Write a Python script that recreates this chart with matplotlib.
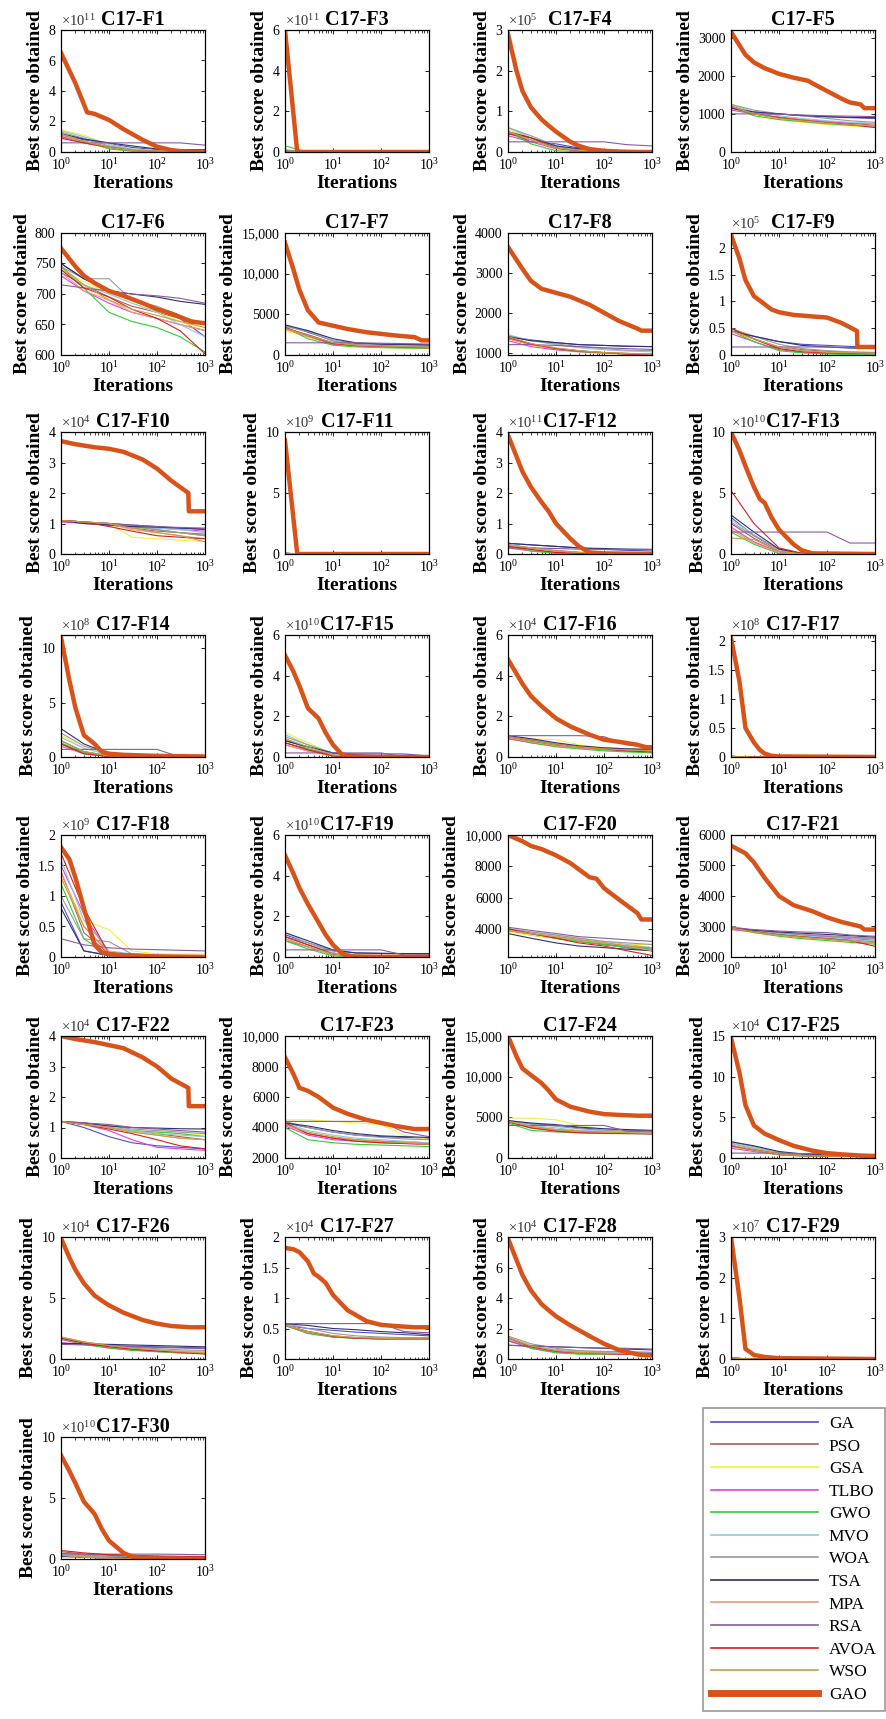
import numpy as np
import matplotlib
matplotlib.use('Agg')
import matplotlib.pyplot as plt
from matplotlib.ticker import FuncFormatter, LogLocator, NullFormatter

plt.rcParams['font.family'] = ['Liberation Serif', 'DejaVu Serif']
plt.rcParams['mathtext.fontset'] = 'custom'
plt.rcParams['mathtext.rm'] = 'Liberation Serif'
plt.rcParams['mathtext.it'] = 'Liberation Serif:italic'
plt.rcParams['mathtext.bf'] = 'Liberation Serif:bold'

ALGOS = ['GA', 'PSO', 'GSA', 'TLBO', 'GWO', 'MVO', 'WOA', 'TSA', 'MPA', 'RSA', 'AVOA', 'WSO', 'GAO']
COLORS = ['#5050c8', '#b05a5a', '#f2f23a', '#e040e0', '#30d030', '#90c8e0', '#9a9a9a',
          '#303070', '#f09878', '#8a5aa0', '#d42020', '#c8a040', '#d95319']

# iterations at which the 12 competitor curves were read
X_PTS = [1, 3, 10, 30, 100, 300, 1000]

# ---- values (in units of 10^exp) ----
F1 = [[1.1, 0.8, 0.55, 0.3, 0.15, 0.1, 0.08], [1.0, 0.7, 0.35, 0.15, 0.08, 0.05, 0.05],
      [1.45, 1.1, 0.5, 0.2, 0.1, 0.05, 0.03], [1.0, 0.6, 0.3, 0.1, 0.05, 0.02, 0.01],
      [1.2, 0.7, 0.2, 0.05, 0.02, 0.01, 0.01], [1.4, 1.0, 0.5, 0.2, 0.1, 0.05, 0.03],
      [1.3, 0.9, 0.4, 0.15, 0.05, 0.02, 0.02], [1.2, 0.85, 0.6, 0.4, 0.2, 0.15, 0.15],
      [1.1, 0.6, 0.3, 0.1, 0.05, 0.02, 0.01], [0.6, 0.6, 0.6, 0.6, 0.6, 0.6, 0.45],
      [0.9, 0.6, 0.3, 0.1, 0.05, 0.02, 0.01], [1.2, 0.7, 0.3, 0.1, 0.05, 0.02, 0.01]]
F1_GAO_X = [1, 2, 3.5, 5, 10, 20, 50, 100, 200, 400, 1000]
F1_GAO_Y = [6.5, 4.5, 2.6, 2.5, 2.1, 1.5, 0.8, 0.35, 0.12, 0.02, 0.0]

F3 = [[0.05, 0, 0, 0, 0, 0, 0], [0.05, 0, 0, 0, 0, 0, 0], [0.08, 0, 0, 0, 0, 0, 0],
      [0.05, 0, 0, 0, 0, 0, 0], [0.3, 0, 0, 0, 0, 0, 0], [0.1, 0, 0, 0, 0, 0, 0],
      [0.1, 0, 0, 0, 0, 0, 0], [0.05, 0, 0, 0, 0, 0, 0], [0.05, 0, 0, 0, 0, 0, 0],
      [0.02, 0, 0, 0, 0, 0, 0], [0.05, 0, 0, 0, 0, 0, 0], [0.05, 0, 0, 0, 0, 0, 0]]
F3_GAO_X = [1, 1.8, 1000]
F3_GAO_Y = [6.0, 0.0, 0.0]

F4 = [[0.5, 0.25, 0.2, 0.1, 0.05, 0.03, 0.02], [0.45, 0.3, 0.1, 0.05, 0.02, 0.01, 0.01],
      [0.55, 0.35, 0.1, 0.03, 0.01, 0.0, 0.0], [0.4, 0.25, 0.08, 0.03, 0.01, 0.0, 0.0],
      [0.5, 0.2, 0.03, 0.01, 0.0, 0.0, 0.0], [0.6, 0.35, 0.12, 0.05, 0.02, 0.01, 0.01],
      [0.6, 0.4, 0.15, 0.05, 0.02, 0.01, 0.01], [0.5, 0.35, 0.15, 0.08, 0.05, 0.03, 0.03],
      [0.5, 0.3, 0.1, 0.03, 0.01, 0.0, 0.0], [0.25, 0.25, 0.25, 0.25, 0.25, 0.18, 0.15],
      [0.45, 0.35, 0.1, 0.03, 0.01, 0.0, 0.0], [0.5, 0.3, 0.1, 0.04, 0.02, 0.01, 0.01]]
F4_GAO_X = [1, 1.5, 2, 3, 5, 7, 10, 20, 30, 50, 100, 200, 500, 1000]
F4_GAO_Y = [2.9, 2.0, 1.5, 1.1, 0.8, 0.65, 0.5, 0.25, 0.15, 0.07, 0.03, 0.01, 0.0, 0.0]

F5 = [[1200, 1050, 1000, 950, 920, 900, 880], [1150, 1000, 900, 850, 800, 750, 700],
      [1250, 1000, 850, 780, 720, 680, 650], [1100, 1000, 920, 850, 800, 760, 740],
      [1200, 950, 850, 800, 740, 700, 680], [1250, 1050, 950, 880, 820, 780, 750],
      [1250, 1100, 1000, 950, 880, 820, 780], [1150, 1050, 1000, 960, 930, 910, 900],
      [1200, 1000, 900, 840, 780, 720, 680], [1000, 1000, 990, 970, 950, 940, 930],
      [1200, 1000, 900, 830, 770, 720, 640], [1200, 1000, 880, 820, 760, 710, 690]]
F5_GAO_X = [1, 1.5, 2, 3, 5, 10, 20, 40, 50, 100, 200, 300, 500, 600, 1000]
F5_GAO_Y = [3150, 2800, 2550, 2350, 2200, 2050, 1950, 1870, 1800, 1600, 1400, 1300, 1250, 1150, 1150]

F6 = [[750, 725, 705, 690, 675, 660, 630], [735, 715, 695, 680, 670, 660, 650],
      [740, 720, 700, 685, 670, 655, 640], [730, 705, 685, 670, 660, 650, 640],
      [745, 710, 670, 655, 645, 630, 605], [740, 715, 700, 685, 670, 650, 630],
      [745, 725, 725, 690, 680, 665, 650], [750, 725, 705, 700, 695, 688, 683],
      [735, 705, 690, 670, 660, 650, 640], [715, 710, 705, 700, 697, 693, 685],
      [740, 710, 695, 675, 660, 640, 602], [745, 715, 690, 675, 665, 655, 645]]
F6_GAO_X = [1, 2, 3, 5, 10, 20, 50, 100, 200, 500, 1000]
F6_GAO_Y = [775, 745, 730, 718, 705, 697, 685, 675, 668, 655, 652]

F7 = [[3700, 2800, 1800, 1400, 1300, 1250, 1200], [3300, 2500, 1500, 1200, 1100, 1000, 950],
      [3000, 2200, 1400, 1100, 1000, 900, 800], [3200, 2300, 1300, 1100, 1000, 950, 900],
      [3400, 2000, 1200, 1000, 900, 850, 800], [3600, 3000, 1800, 1300, 1150, 1050, 1000],
      [3500, 2900, 1700, 1300, 1200, 1100, 1050], [3700, 3000, 2000, 1500, 1350, 1300, 1250],
      [3200, 2300, 1400, 1100, 1000, 920, 880], [1500, 1500, 1500, 1500, 1450, 1400, 1350],
      [3400, 2400, 1400, 1150, 1050, 950, 900], [3300, 2400, 1500, 1200, 1100, 1000, 950]]
F7_GAO_X = [1, 1.5, 2, 3, 5, 10, 20, 50, 100, 200, 500, 700, 1000]
F7_GAO_Y = [13800, 10500, 8000, 5500, 4000, 3600, 3200, 2800, 2600, 2400, 2200, 1800, 1800]

F8 = [[1400, 1320, 1250, 1200, 1180, 1160, 1150], [1350, 1200, 1100, 1050, 1000, 980, 960],
      [1400, 1200, 1080, 1020, 980, 960, 950], [1300, 1150, 1070, 1020, 990, 970, 960],
      [1380, 1200, 1100, 1030, 990, 970, 960], [1450, 1300, 1200, 1120, 1070, 1040, 1020],
      [1420, 1300, 1220, 1150, 1100, 1060, 1050], [1400, 1300, 1250, 1200, 1180, 1160, 1150],
      [1350, 1200, 1100, 1040, 1000, 980, 970], [1200, 1200, 1180, 1150, 1120, 1100, 1080],
      [1380, 1220, 1100, 1040, 1000, 960, 940], [1400, 1230, 1120, 1050, 1000, 980, 960]]
F8_GAO_X = [1, 2, 3, 5, 10, 20, 50, 100, 200, 500, 600, 1000]
F8_GAO_Y = [3650, 3100, 2800, 2600, 2500, 2400, 2200, 2000, 1800, 1600, 1550, 1550]

F9 = [[0.45, 0.35, 0.25, 0.2, 0.18, 0.16, 0.15], [0.5, 0.3, 0.15, 0.1, 0.07, 0.05, 0.04],
      [0.45, 0.3, 0.12, 0.06, 0.04, 0.03, 0.02], [0.4, 0.25, 0.1, 0.05, 0.03, 0.02, 0.02],
      [0.45, 0.25, 0.08, 0.04, 0.02, 0.01, 0.01], [0.5, 0.3, 0.15, 0.08, 0.05, 0.04, 0.03],
      [0.5, 0.35, 0.2, 0.12, 0.08, 0.06, 0.05], [0.45, 0.35, 0.25, 0.18, 0.15, 0.13, 0.12],
      [0.45, 0.3, 0.12, 0.06, 0.04, 0.03, 0.02], [0.15, 0.15, 0.15, 0.15, 0.15, 0.14, 0.13],
      [0.5, 0.3, 0.12, 0.06, 0.04, 0.03, 0.03], [0.45, 0.3, 0.15, 0.08, 0.05, 0.04, 0.03]]
F9_GAO_X = [1, 1.5, 2, 3, 5, 7, 10, 20, 50, 100, 200, 420, 430, 1000]
F9_GAO_Y = [2.25, 1.8, 1.4, 1.1, 0.95, 0.85, 0.8, 0.75, 0.72, 0.7, 0.6, 0.45, 0.15, 0.15]

F10 = [[1.1, 1.05, 1.0, 0.95, 0.9, 0.85, 0.8], [1.1, 1.05, 0.95, 0.85, 0.75, 0.7, 0.65],
       [1.1, 1.05, 1.0, 0.55, 0.5, 0.45, 0.4], [1.05, 1.0, 0.95, 0.9, 0.85, 0.8, 0.75],
       [1.1, 1.05, 1.0, 0.9, 0.8, 0.7, 0.6], [1.1, 1.05, 1.0, 0.9, 0.85, 0.8, 0.7],
       [1.1, 1.05, 1.0, 0.9, 0.8, 0.7, 0.6], [1.1, 1.0, 0.95, 0.9, 0.88, 0.85, 0.82],
       [1.1, 1.05, 1.0, 0.8, 0.7, 0.6, 0.5], [1.1, 1.05, 1.0, 0.95, 0.9, 0.87, 0.85],
       [1.1, 1.05, 0.9, 0.75, 0.6, 0.55, 0.5], [1.1, 1.05, 1.0, 0.85, 0.7, 0.6, 0.4]]
F10_GAO_X = [1, 2, 5, 10, 20, 50, 100, 200, 450, 460, 1000]
F10_GAO_Y = [3.7, 3.6, 3.5, 3.45, 3.35, 3.1, 2.8, 2.4, 2.0, 1.4, 1.4]

F11 = [[0.05, 0, 0, 0, 0, 0, 0]] * 12
F11_GAO_X = [1, 1.8, 1000]
F11_GAO_Y = [9.3, 0.0, 0.0]

F12 = [[0.35, 0.3, 0.25, 0.2, 0.15, 0.12, 0.1], [0.3, 0.2, 0.1, 0.05, 0.02, 0.01, 0.01],
       [0.25, 0.15, 0.05, 0.02, 0.01, 0.0, 0.0], [0.2, 0.1, 0.05, 0.02, 0.01, 0.0, 0.0],
       [0.25, 0.1, 0.02, 0.01, 0.0, 0.0, 0.0], [0.3, 0.2, 0.1, 0.05, 0.03, 0.02, 0.02],
       [0.3, 0.2, 0.12, 0.06, 0.03, 0.02, 0.02], [0.35, 0.3, 0.25, 0.2, 0.18, 0.16, 0.15],
       [0.3, 0.15, 0.05, 0.02, 0.01, 0.0, 0.0], [0.2, 0.2, 0.18, 0.16, 0.15, 0.15, 0.15],
       [0.25, 0.15, 0.05, 0.02, 0.01, 0.0, 0.0], [0.3, 0.2, 0.1, 0.05, 0.02, 0.01, 0.01]]
F12_GAO_X = [1, 1.5, 2, 3, 5, 7, 10, 20, 30, 50, 100, 1000]
F12_GAO_Y = [3.9, 3.2, 2.7, 2.2, 1.7, 1.4, 1.0, 0.5, 0.25, 0.05, 0.02, 0.0]

F13 = [[3.0, 1.5, 0.3, 0.05, 0, 0, 0], [2.5, 1.3, 0.2, 0.02, 0, 0, 0],
       [2.0, 1.0, 0.1, 0, 0, 0, 0], [2.2, 1.0, 0.15, 0, 0, 0, 0],
       [1.8, 0.8, 0.05, 0, 0, 0, 0], [2.8, 1.6, 0.3, 0.05, 0, 0, 0],
       [2.6, 1.5, 0.4, 0.05, 0, 0, 0], [3.2, 1.8, 0.4, 0.05, 0, 0, 0],
       [2.0, 0.9, 0.1, 0, 0, 0, 0], [1.8, 1.8, 1.8, 1.8, 1.8, 0.9, 0.9],
       [5.2, 2.5, 0.5, 0.05, 0, 0, 0], [1.3, 1.2, 0.2, 0.02, 0, 0, 0]]
F13_GAO_X = [1, 1.5, 2, 3, 4, 5, 7, 10, 20, 30, 50, 1000]
F13_GAO_Y = [10, 8.5, 7.2, 5.5, 4.5, 4.2, 3.0, 2.0, 0.8, 0.3, 0.05, 0.0]

F14 = [[1.5, 0.5, 0.1, 0.05, 0.02, 0, 0], [1.2, 0.4, 0.1, 0.02, 0, 0, 0],
       [2.0, 0.8, 0.2, 0.05, 0, 0, 0], [1.0, 0.3, 0.05, 0, 0, 0, 0],
       [1.3, 0.4, 0.05, 0, 0, 0, 0], [1.8, 0.8, 0.2, 0.05, 0.02, 0, 0],
       [2.2, 1.0, 0.3, 0.1, 0.05, 0.02, 0], [2.6, 1.2, 0.3, 0.1, 0.05, 0.02, 0],
       [1.0, 0.3, 0.05, 0, 0, 0, 0], [0.7, 0.7, 0.7, 0.7, 0.7, 0, 0],
       [1.2, 0.3, 0.05, 0, 0, 0, 0], [1.5, 0.5, 0.1, 0, 0, 0, 0]]
F14_GAO_X = [1, 1.5, 2, 3, 5, 7, 10, 20, 100, 1000]
F14_GAO_Y = [11, 7, 4.5, 2.0, 1.2, 0.5, 0.3, 0.2, 0.1, 0.05]

F15 = [[0.8, 0.5, 0.2, 0.15, 0.15, 0.15, 0.05], [0.7, 0.4, 0.1, 0.02, 0, 0, 0],
       [1.2, 0.7, 0.15, 0.02, 0, 0, 0], [0.6, 0.3, 0.05, 0, 0, 0, 0],
       [0.9, 0.4, 0.05, 0, 0, 0, 0], [1.1, 0.6, 0.15, 0.03, 0, 0, 0],
       [1.0, 0.6, 0.2, 0.05, 0.02, 0, 0], [0.8, 0.5, 0.2, 0.1, 0.05, 0.02, 0.02],
       [0.6, 0.3, 0.05, 0, 0, 0, 0], [0.2, 0.2, 0.2, 0.2, 0.2, 0.02, 0.02],
       [0.7, 0.35, 0.05, 0, 0, 0, 0], [0.9, 0.5, 0.1, 0.02, 0, 0, 0]]
F15_GAO_X = [1, 1.5, 2, 3, 5, 7, 10, 15, 20, 30, 100, 1000]
F15_GAO_Y = [5.0, 4.2, 3.5, 2.4, 1.9, 1.2, 0.6, 0.15, 0.05, 0.02, 0.0, 0.0]

F16 = [[1.0, 0.8, 0.6, 0.5, 0.4, 0.35, 0.3], [0.9, 0.7, 0.55, 0.45, 0.35, 0.3, 0.25],
       [0.95, 0.9, 0.85, 0.6, 0.45, 0.35, 0.3], [0.9, 0.75, 0.55, 0.45, 0.4, 0.35, 0.3],
       [1.0, 0.7, 0.5, 0.4, 0.3, 0.25, 0.2], [1.0, 0.8, 0.6, 0.5, 0.4, 0.35, 0.3],
       [1.0, 0.85, 0.65, 0.5, 0.45, 0.4, 0.35], [1.05, 0.9, 0.7, 0.55, 0.45, 0.4, 0.38],
       [0.95, 0.75, 0.55, 0.45, 0.38, 0.32, 0.28], [1.05, 1.05, 1.05, 1.05, 1.0, 0.6, 0.55],
       [1.0, 0.8, 0.6, 0.5, 0.4, 0.3, 0.25], [1.0, 0.8, 0.6, 0.5, 0.4, 0.35, 0.3]]
F16_GAO_X = [1, 2, 3, 5, 10, 20, 50, 100, 200, 500, 700, 1000]
F16_GAO_Y = [4.8, 3.6, 3.0, 2.5, 1.9, 1.5, 1.1, 0.85, 0.75, 0.6, 0.5, 0.45]

F17 = [[0.01, 0, 0, 0, 0, 0, 0]] * 12
F17_GAO_X = [1, 1.5, 2, 3, 4, 5, 7, 10, 1000]
F17_GAO_Y = [2.05, 1.3, 0.5, 0.25, 0.12, 0.06, 0.02, 0.01, 0.0]

F18 = [[0.9, 0.1, 0.02, 0.01, 0.01, 0.01, 0.01], [1.4, 0.4, 0.05, 0.02, 0.01, 0.01, 0.01],
       [1.3, 0.6, 0.45, 0.1, 0.05, 0.05, 0.05], [1.5, 0.7, 0.05, 0.02, 0.01, 0.01, 0.01],
       [1.2, 0.3, 0.02, 0.01, 0.01, 0, 0], [1.6, 0.6, 0.1, 0.05, 0.03, 0.02, 0.02],
       [1.0, 0.3, 0.25, 0.05, 0.03, 0.02, 0.02], [0.8, 0.1, 0.03, 0.02, 0.01, 0.01, 0.01],
       [1.4, 0.5, 0.05, 0.02, 0.01, 0.01, 0.01], [0.3, 0.2, 0.15, 0.13, 0.12, 0.11, 0.1],
       [1.7, 0.8, 0.05, 0.02, 0.01, 0.01, 0.01], [1.3, 0.5, 0.08, 0.03, 0.02, 0.01, 0.01]]
F18_GAO_X = [1, 1.5, 2, 3, 5, 7, 10, 20, 100, 1000]
F18_GAO_Y = [1.8, 1.6, 1.3, 0.8, 0.2, 0.08, 0.05, 0.03, 0.01, 0.0]

F19 = [[1.1, 0.7, 0.3, 0.2, 0.18, 0.16, 0.15], [1.0, 0.6, 0.2, 0.05, 0.02, 0.01, 0.01],
       [0.9, 0.5, 0.15, 0.05, 0.02, 0.01, 0.01], [0.8, 0.5, 0.1, 0.03, 0.01, 0, 0],
       [0.8, 0.4, 0.05, 0.01, 0, 0, 0], [1.2, 0.7, 0.2, 0.05, 0.02, 0.01, 0.01],
       [1.0, 0.7, 0.3, 0.1, 0.05, 0.03, 0.02], [1.2, 0.8, 0.35, 0.2, 0.18, 0.17, 0.17],
       [0.9, 0.5, 0.1, 0.03, 0.01, 0, 0], [0.35, 0.35, 0.35, 0.35, 0.35, 0.1, 0.1],
       [1.0, 0.6, 0.15, 0.03, 0.01, 0, 0], [0.9, 0.5, 0.15, 0.04, 0.02, 0.01, 0.01]]
F19_GAO_X = [1, 1.5, 2, 3, 5, 7, 10, 15, 20, 30, 1000]
F19_GAO_Y = [5.0, 4.1, 3.4, 2.6, 1.7, 1.1, 0.6, 0.2, 0.05, 0.02, 0.0]

F20 = [[4000, 3700, 3400, 3200, 3000, 2800, 2600], [3900, 3600, 3400, 3200, 3000, 2900, 2800],
       [3800, 3600, 3400, 3200, 3100, 3000, 3000], [3900, 3700, 3500, 3300, 3100, 2900, 2700],
       [4000, 3700, 3400, 3200, 3000, 2800, 2700], [4000, 3800, 3600, 3400, 3200, 3000, 2800],
       [4000, 3800, 3600, 3400, 3200, 3100, 3000], [3700, 3400, 3100, 2900, 2800, 2700, 2600],
       [3900, 3700, 3500, 3300, 3100, 2900, 2600], [4100, 3900, 3700, 3500, 3400, 3300, 3200],
       [4000, 3700, 3400, 3100, 2900, 2600, 2300], [3900, 3700, 3500, 3300, 3100, 2900, 2800]]
F20_GAO_X = [1, 2, 3, 5, 10, 20, 30, 50, 70, 100, 200, 300, 500, 600, 1000]
F20_GAO_Y = [10000, 9600, 9300, 9100, 8700, 8200, 7800, 7300, 7200, 6600, 5900, 5500, 5000, 4600, 4600]

F21 = [[2950, 2850, 2780, 2720, 2680, 2650, 2600], [2950, 2830, 2750, 2680, 2620, 2570, 2500],
       [2950, 2800, 2700, 2620, 2560, 2500, 2450], [2900, 2820, 2760, 2700, 2650, 2600, 2550],
       [2950, 2800, 2680, 2600, 2540, 2480, 2420], [3000, 2860, 2770, 2700, 2640, 2580, 2520],
       [3000, 2880, 2800, 2740, 2690, 2640, 2600], [2950, 2880, 2820, 2780, 2740, 2700, 2650],
       [2950, 2820, 2720, 2640, 2580, 2520, 2450], [2950, 2900, 2850, 2820, 2800, 2720, 2680],
       [2950, 2830, 2730, 2660, 2600, 2540, 2350], [2950, 2820, 2720, 2650, 2590, 2530, 2470]]
F21_GAO_X = [1, 2, 3, 5, 10, 20, 50, 100, 200, 500, 600, 1000]
F21_GAO_Y = [5650, 5400, 5100, 4600, 4000, 3700, 3500, 3300, 3150, 3000, 2900, 2900]

F22 = [[1.2, 1.0, 0.7, 0.5, 0.4, 0.35, 0.3], [1.2, 1.1, 1.0, 0.9, 0.8, 0.7, 0.6],
       [1.2, 1.1, 1.0, 0.9, 0.85, 0.8, 0.75], [1.2, 1.1, 0.9, 0.6, 0.35, 0.3, 0.25],
       [1.2, 1.1, 1.0, 0.9, 0.85, 0.8, 0.7], [1.2, 1.1, 1.0, 0.9, 0.8, 0.75, 0.7],
       [1.2, 1.15, 1.05, 0.95, 0.9, 0.85, 0.8], [1.2, 1.15, 1.05, 1.0, 0.98, 0.96, 0.95],
       [1.2, 1.1, 1.0, 0.85, 0.75, 0.65, 0.6], [1.2, 1.15, 1.1, 1.0, 0.95, 0.9, 0.85],
       [1.2, 1.1, 0.95, 0.8, 0.6, 0.4, 0.3], [1.2, 1.1, 1.0, 0.85, 0.75, 0.65, 0.6]]
F22_GAO_X = [1, 2, 5, 10, 20, 50, 100, 200, 450, 460, 1000]
F22_GAO_Y = [4.0, 3.9, 3.8, 3.7, 3.6, 3.3, 3.0, 2.6, 2.3, 1.7, 1.7]

F23 = [[4300, 4000, 3700, 3500, 3400, 3350, 3300], [4300, 3600, 3300, 3200, 3100, 3050, 3000],
       [4500, 4500, 4400, 4300, 4200, 3500, 3200], [4100, 3500, 3200, 3100, 3000, 2950, 2900],
       [4000, 3200, 3000, 2900, 2850, 2800, 2750], [4300, 3800, 3500, 3300, 3200, 3100, 3000],
       [4400, 4000, 3700, 3500, 3350, 3250, 3200], [4300, 4100, 3800, 3600, 3450, 3400, 3350],
       [4200, 3600, 3300, 3150, 3050, 3000, 2950], [4400, 4400, 4400, 4400, 4400, 3700, 3400],
       [4300, 3600, 3300, 3100, 3000, 2950, 2900], [4200, 3700, 3400, 3200, 3100, 3000, 2900]]
F23_GAO_X = [1, 1.5, 2, 3, 5, 10, 20, 50, 100, 200, 500, 1000]
F23_GAO_Y = [8600, 7500, 6600, 6400, 6000, 5300, 4900, 4500, 4300, 4100, 3900, 3900]

F24 = [[4500, 4200, 4000, 3700, 3500, 3400, 3300], [4500, 3800, 3500, 3300, 3200, 3100, 3100],
       [4900, 4900, 4700, 4000, 3500, 3300, 3200], [4400, 3700, 3400, 3200, 3100, 3050, 3000],
       [4300, 3400, 3200, 3100, 3000, 3000, 3000], [4600, 4000, 3700, 3400, 3300, 3200, 3100],
       [4600, 4200, 3900, 3600, 3400, 3300, 3200], [4600, 4300, 4100, 3800, 3600, 3500, 3400],
       [4500, 3800, 3400, 3200, 3100, 3050, 3000], [4000, 4000, 4000, 4000, 4000, 3300, 3300],
       [4500, 3700, 3300, 3100, 3050, 3000, 2950], [4500, 3900, 3500, 3300, 3200, 3100, 3050]]
F24_GAO_X = [1, 1.5, 2, 3, 5, 7, 10, 20, 50, 100, 200, 500, 1000]
F24_GAO_Y = [15000, 12500, 11000, 10200, 9200, 8300, 7200, 6300, 5700, 5400, 5300, 5200, 5200]

F25 = [[1.8, 1.2, 0.6, 0.4, 0.3, 0.25, 0.2], [1.5, 1.0, 0.5, 0.3, 0.25, 0.2, 0.2],
       [2.0, 1.3, 0.7, 0.4, 0.3, 0.25, 0.2], [1.2, 0.8, 0.4, 0.25, 0.2, 0.2, 0.2],
       [1.5, 0.9, 0.4, 0.25, 0.2, 0.2, 0.2], [1.8, 1.2, 0.6, 0.4, 0.3, 0.25, 0.2],
       [2.0, 1.4, 0.7, 0.45, 0.35, 0.3, 0.25], [2.0, 1.5, 0.8, 0.5, 0.4, 0.35, 0.3],
       [1.4, 0.9, 0.45, 0.3, 0.25, 0.2, 0.2], [0.6, 0.6, 0.6, 0.55, 0.5, 0.45, 0.4],
       [1.5, 1.0, 0.5, 0.3, 0.25, 0.2, 0.2], [1.6, 1.0, 0.5, 0.3, 0.25, 0.2, 0.2]]
F25_GAO_X = [1, 1.5, 2, 3, 5, 10, 20, 50, 100, 200, 500, 1000]
F25_GAO_Y = [14.8, 10.5, 6.5, 4.0, 3.0, 2.2, 1.5, 0.9, 0.6, 0.45, 0.3, 0.25]

F26 = [[1.3, 1.2, 1.1, 1.05, 1.0, 0.95, 0.9], [1.7, 1.3, 1.0, 0.8, 0.7, 0.6, 0.5],
       [1.8, 1.4, 1.1, 0.9, 0.75, 0.65, 0.55], [1.6, 1.2, 0.9, 0.75, 0.6, 0.5, 0.45],
       [1.7, 1.2, 0.9, 0.7, 0.6, 0.5, 0.45], [1.7, 1.3, 1.0, 0.85, 0.75, 0.65, 0.6],
       [1.8, 1.4, 1.1, 0.95, 0.85, 0.75, 0.7], [1.3, 1.25, 1.2, 1.15, 1.1, 1.05, 1.0],
       [1.7, 1.3, 1.0, 0.8, 0.65, 0.55, 0.5], [1.2, 1.15, 1.1, 1.0, 0.95, 0.9, 0.85],
       [1.7, 1.3, 1.0, 0.8, 0.65, 0.55, 0.4], [1.8, 1.4, 1.1, 0.9, 0.75, 0.6, 0.5]]
F26_GAO_X = [1, 1.5, 2, 3, 5, 7, 10, 20, 50, 100, 200, 500, 1000]
F26_GAO_Y = [9.9, 8.3, 7.3, 6.2, 5.2, 4.8, 4.4, 3.8, 3.2, 2.9, 2.7, 2.6, 2.6]

F27 = [[0.55, 0.5, 0.47, 0.44, 0.42, 0.4, 0.38], [0.55, 0.45, 0.38, 0.35, 0.34, 0.33, 0.33],
       [0.55, 0.43, 0.37, 0.34, 0.33, 0.33, 0.33], [0.55, 0.42, 0.36, 0.34, 0.33, 0.33, 0.33],
       [0.55, 0.42, 0.36, 0.34, 0.33, 0.33, 0.33], [0.57, 0.45, 0.38, 0.35, 0.34, 0.34, 0.34],
       [0.58, 0.5, 0.42, 0.38, 0.36, 0.35, 0.35], [0.58, 0.55, 0.5, 0.48, 0.45, 0.43, 0.4],
       [0.55, 0.44, 0.37, 0.35, 0.34, 0.33, 0.33], [0.58, 0.58, 0.58, 0.58, 0.58, 0.45, 0.43],
       [0.55, 0.45, 0.37, 0.34, 0.33, 0.33, 0.33], [0.55, 0.45, 0.38, 0.35, 0.34, 0.33, 0.33]]
F27_GAO_X = [1, 1.5, 2, 3, 4, 5, 7, 10, 20, 50, 100, 200, 500, 1000]
F27_GAO_Y = [1.82, 1.8, 1.75, 1.6, 1.4, 1.35, 1.25, 1.05, 0.8, 0.62, 0.56, 0.54, 0.52, 0.52]

F28 = [[1.2, 0.8, 0.6, 0.5, 0.45, 0.42, 0.4], [1.4, 0.8, 0.5, 0.4, 0.35, 0.32, 0.3],
       [1.5, 0.9, 0.5, 0.4, 0.35, 0.32, 0.3], [1.2, 0.7, 0.45, 0.35, 0.32, 0.3, 0.3],
       [1.4, 0.7, 0.4, 0.32, 0.3, 0.3, 0.3], [1.4, 0.9, 0.6, 0.5, 0.45, 0.4, 0.38],
       [1.5, 1.0, 0.7, 0.55, 0.5, 0.48, 0.45], [0.9, 0.85, 0.8, 0.75, 0.7, 0.65, 0.6],
       [1.3, 0.8, 0.5, 0.38, 0.33, 0.3, 0.3], [0.9, 0.85, 0.8, 0.75, 0.72, 0.7, 0.65],
       [1.4, 0.8, 0.5, 0.4, 0.35, 0.3, 0.3], [1.4, 0.85, 0.55, 0.42, 0.38, 0.35, 0.33]]
F28_GAO_X = [1, 1.5, 2, 3, 5, 7, 10, 20, 50, 100, 200, 500, 700, 1000]
F28_GAO_Y = [7.9, 6.5, 5.5, 4.5, 3.6, 3.2, 2.8, 2.2, 1.5, 1.0, 0.6, 0.3, 0.25, 0.25]

F29 = [[0.02, 0, 0, 0, 0, 0, 0]] * 12
F29_GAO_X = [1, 1.5, 2, 3, 5, 10, 1000]
F29_GAO_Y = [3.0, 1.5, 0.25, 0.1, 0.05, 0.02, 0.0]

F30 = [[0.4, 0.3, 0.2, 0.15, 0.1, 0.1, 0.1], [0.6, 0.4, 0.3, 0.25, 0.2, 0.2, 0.2],
       [0.3, 0.2, 0.1, 0.05, 0.03, 0.02, 0.02], [0.3, 0.15, 0.05, 0.02, 0.01, 0.01, 0.01],
       [0.3, 0.15, 0.05, 0.02, 0.01, 0.01, 0.01], [0.4, 0.25, 0.15, 0.1, 0.05, 0.05, 0.05],
       [0.4, 0.3, 0.2, 0.15, 0.1, 0.1, 0.1], [0.2, 0.15, 0.1, 0.1, 0.1, 0.1, 0.1],
       [0.3, 0.15, 0.05, 0.02, 0.01, 0.01, 0.01], [0.45, 0.4, 0.4, 0.4, 0.4, 0.38, 0.35],
       [0.7, 0.5, 0.35, 0.3, 0.25, 0.22, 0.2], [0.3, 0.2, 0.1, 0.05, 0.03, 0.02, 0.02]]
F30_GAO_X = [1, 1.5, 2, 3, 5, 7, 10, 20, 30, 50, 100, 1000]
F30_GAO_Y = [8.5, 7.2, 6.2, 4.7, 3.7, 2.5, 1.5, 0.5, 0.2, 0.1, 0.05, 0.0]

# panel settings: title, exponent, y-limits, y-ticks (in displayed units)
TITLES = ['C17-F1', 'C17-F3', 'C17-F4', 'C17-F5', 'C17-F6', 'C17-F7', 'C17-F8', 'C17-F9',
          'C17-F10', 'C17-F11', 'C17-F12', 'C17-F13', 'C17-F14', 'C17-F15', 'C17-F16',
          'C17-F17', 'C17-F18', 'C17-F19', 'C17-F20', 'C17-F21', 'C17-F22', 'C17-F23',
          'C17-F24', 'C17-F25', 'C17-F26', 'C17-F27', 'C17-F28', 'C17-F29', 'C17-F30']
EXPS = [11, 11, 5, 0, 0, 0, 0, 5, 4, 9, 11, 10, 8, 10, 4, 8, 9, 10, 0, 0, 4, 0, 0, 4, 4, 4, 4, 7, 10]
YLIMS = [(0, 8), (0, 6), (0, 3), (0, 3200), (600, 800), (0, 15000), (940, 4000), (0, 2.28),
         (0, 4), (0, 10), (0, 4), (0, 10), (0, 11.2), (0, 6), (0, 6), (0, 2.1), (0, 2), (0, 6),
         (2200, 10000), (2000, 6000), (0, 4), (2000, 10000), (0, 15000), (0, 15), (0, 10),
         (0, 2), (0, 8), (0, 3), (0, 10)]
YTICKS = [[0, 2, 4, 6, 8], [0, 2, 4, 6], [0, 1, 2, 3], [0, 1000, 2000, 3000],
          [600, 650, 700, 750, 800], [0, 5000, 10000, 15000], [1000, 2000, 3000, 4000],
          [0, 0.5, 1, 1.5, 2], [0, 1, 2, 3, 4], [0, 5, 10], [0, 1, 2, 3, 4], [0, 5, 10],
          [0, 5, 10], [0, 2, 4, 6], [0, 2, 4, 6], [0, 0.5, 1, 1.5, 2], [0, 0.5, 1, 1.5, 2],
          [0, 2, 4, 6], [4000, 6000, 8000, 10000], [2000, 3000, 4000, 5000, 6000],
          [0, 1, 2, 3, 4], [2000, 4000, 6000, 8000, 10000], [0, 5000, 10000, 15000],
          [0, 5, 10, 15], [0, 5, 10], [0, 0.5, 1, 1.5, 2], [0, 2, 4, 6, 8], [0, 1, 2, 3],
          [0, 5, 10]]
OTHERS = [F1, F3, F4, F5, F6, F7, F8, F9, F10, F11, F12, F13, F14, F15, F16, F17, F18, F19,
          F20, F21, F22, F23, F24, F25, F26, F27, F28, F29, F30]
GAO_X = [F1_GAO_X, F3_GAO_X, F4_GAO_X, F5_GAO_X, F6_GAO_X, F7_GAO_X, F8_GAO_X, F9_GAO_X,
         F10_GAO_X, F11_GAO_X, F12_GAO_X, F13_GAO_X, F14_GAO_X, F15_GAO_X, F16_GAO_X,
         F17_GAO_X, F18_GAO_X, F19_GAO_X, F20_GAO_X, F21_GAO_X, F22_GAO_X, F23_GAO_X,
         F24_GAO_X, F25_GAO_X, F26_GAO_X, F27_GAO_X, F28_GAO_X, F29_GAO_X, F30_GAO_X]
GAO_Y = [F1_GAO_Y, F3_GAO_Y, F4_GAO_Y, F5_GAO_Y, F6_GAO_Y, F7_GAO_Y, F8_GAO_Y, F9_GAO_Y,
         F10_GAO_Y, F11_GAO_Y, F12_GAO_Y, F13_GAO_Y, F14_GAO_Y, F15_GAO_Y, F16_GAO_Y,
         F17_GAO_Y, F18_GAO_Y, F19_GAO_Y, F20_GAO_Y, F21_GAO_Y, F22_GAO_Y, F23_GAO_Y,
         F24_GAO_Y, F25_GAO_Y, F26_GAO_Y, F27_GAO_Y, F28_GAO_Y, F29_GAO_Y, F30_GAO_Y]

W, H = 887, 1719
fig = plt.figure(figsize=(W / 100, H / 100), dpi=100)

col_left = [61, 285, 508, 731]
row_top = [30, 233, 432, 635, 835, 1036, 1237, 1437]
aw, ah = 144, 122


def make_fmt(exp):
    def f(v, pos):
        v = round(v / 10 ** exp, 6)
        if abs(v) >= 10000:
            return '{:,}'.format(int(v))
        return '%g' % v
    return f


handles = None
for i, title in enumerate(TITLES):
    r, c = divmod(i, 4)
    ax = fig.add_axes([col_left[c] / W, 1 - (row_top[r] + ah) / H, aw / W, ah / H])
    scale = 10.0 ** EXPS[i]
    lines = []
    for k, vals in enumerate(OTHERS[i]):
        ln, = ax.semilogx(X_PTS, np.array(vals) * scale, color=COLORS[k], lw=0.8)
        lines.append(ln)
    ln, = ax.semilogx(GAO_X[i], np.array(GAO_Y[i]) * scale, color=COLORS[12], lw=3.2)
    lines.append(ln)
    if handles is None:
        handles = lines

    ax.set_xlim(1, 1000)
    ax.set_ylim(YLIMS[i][0] * scale, YLIMS[i][1] * scale)
    ax.set_yticks(np.array(YTICKS[i]) * scale)
    ax.yaxis.set_major_formatter(FuncFormatter(make_fmt(EXPS[i])))
    ax.set_xticks([1, 10, 100, 1000])
    ax.xaxis.set_minor_locator(LogLocator(base=10, subs=np.arange(2, 10)))
    ax.xaxis.set_minor_formatter(NullFormatter())
    ax.tick_params(which='both', direction='in', top=True, right=True, labelsize=10, pad=4)
    ax.tick_params(which='major', length=3, width=0.6)
    ax.tick_params(which='minor', length=1.8, width=0.5)
    for s in ax.spines.values():
        s.set_linewidth(0.9)
    ax.set_title(title, fontsize=14.5, fontweight='bold', pad=1)
    ax.set_xlabel('Iterations', fontsize=14, fontweight='bold', labelpad=1)
    ax.set_ylabel('Best score obtained', fontsize=14, fontweight='bold', labelpad=3)
    if EXPS[i] != 0:
        ax.text(0.0, 1.005, r'$\times10^{%d}$' % EXPS[i], transform=ax.transAxes,
                ha='left', va='bottom', fontsize=10.5, color='#333333')

leg = fig.legend(handles, ALGOS, loc='upper left', bbox_to_anchor=(703 / W, 1 - 1408 / H),
                 frameon=True, fancybox=False, fontsize=12.5, handlelength=6.2,
                 handletextpad=0.6, labelspacing=0.37, borderpad=0.45, borderaxespad=0)
leg.get_frame().set_edgecolor('#808080')
leg.get_frame().set_linewidth(1.2)
for lh in leg.get_lines()[:12]:
    lh.set_linewidth(1.2)
leg.get_lines()[12].set_linewidth(5)

fig.savefig('out.png', dpi=100)
